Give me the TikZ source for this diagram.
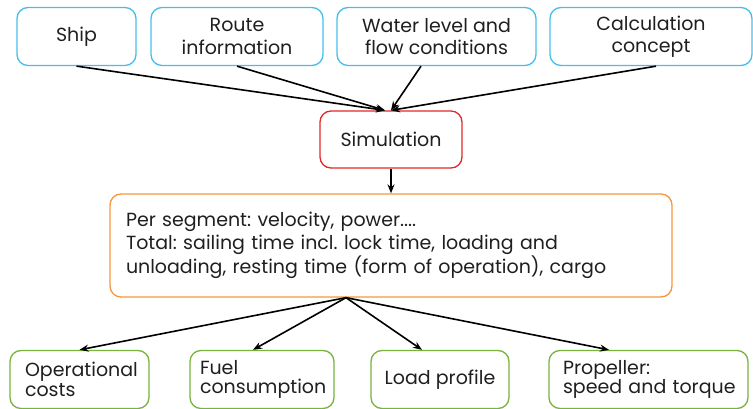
\documentclass[tikz,border=0pt]{standalone}
\usepackage{fontspec}
\setmainfont{Poppins}
\usetikzlibrary{arrows.meta}
\definecolor{cblue}{RGB}{70,190,235}
\definecolor{cred}{RGB}{228,40,40}
\definecolor{corange}{RGB}{245,150,60}
\definecolor{cgreen}{RGB}{120,180,60}
\frenchspacing
\hyphenpenalty=10000
\hbadness=10000
\hfuzz=100pt
\begin{document}
\begin{tikzpicture}[x=1pt,y=-1pt,
  box/.style={draw, line width=1.3pt, rounded corners=11pt, minimum height=58pt, inner sep=0pt,
    font=\fontsize{19}{22.5}\selectfont, text=black!88},
  inbox/.style={box, draw=cblue, align=center},
  outbox/.style={box, draw=cgreen, font=\fontsize{19}{19.5}\selectfont},
  arr/.style={line width=1.6pt, -{Stealth[length=9pt,width=7pt]}}]
\useasboundingbox (0,0) rectangle (753,409);
% top inputs
\node[inbox, minimum width=119pt] (ship) at (76.5,36.5) {Ship};
\node[inbox, minimum width=172pt] (route) at (237,36.5) {Route\\information};
\node[inbox, minimum width=199pt] (water) at (436.5,36.5) {Water level and\\flow conditions};
\node[inbox, minimum width=202pt] (calc) at (651,36.5) {Calculation\\concept};
% simulation
\node[box, draw=cred, minimum width=142pt, minimum height=57pt] (sim) at (391,139.5) {Simulation};
% output box
\node[box, draw=corange, minimum width=562pt, minimum height=103pt, text width=530pt, align=left] (out) at (391,245.5)
  {Per segment: velocity, power....\\Total: sailing time incl. lock time, loading and\\unloading, resting time (form of operation), cargo};
% bottom outputs
\node[outbox, minimum width=139pt, text width=109pt, align=left] (op) at (79.5,379.5) {Operational\\costs};
\node[outbox, minimum width=144pt, text width=124pt, align=left] (fuel) at (262,379.5) {Fuel\\consumption};
\node[outbox, minimum width=138pt, align=center] (load) at (440,379.5) {Load profile};
\node[outbox, minimum width=199pt, text width=171pt, align=left] (prop) at (648.5,379.5) {Propeller:\\\mbox{speed and torque}};
% connectors
\draw[arr] (ship.south) -- ([xshift=-6pt]sim.north);
\draw[arr] (route.south) -- ([xshift=-6pt]sim.north);
\draw[arr] ([xshift=-15.5pt]water.south) -- (sim.north);
\draw[arr] ([xshift=5pt]calc.south) -- (sim.north);
\draw[arr] (sim.south) -- (out.north);
\coordinate (hub) at ([xshift=-45pt]out.south);
\draw[arr] (hub) -- (op.north);
\draw[arr] (hub) -- ([xshift=-9pt]fuel.north);
\draw[arr] (hub) -- ([xshift=-18pt]load.north);
\draw[arr] (hub) -- ([xshift=-39.5pt]prop.north);
\end{tikzpicture}
\end{document}
